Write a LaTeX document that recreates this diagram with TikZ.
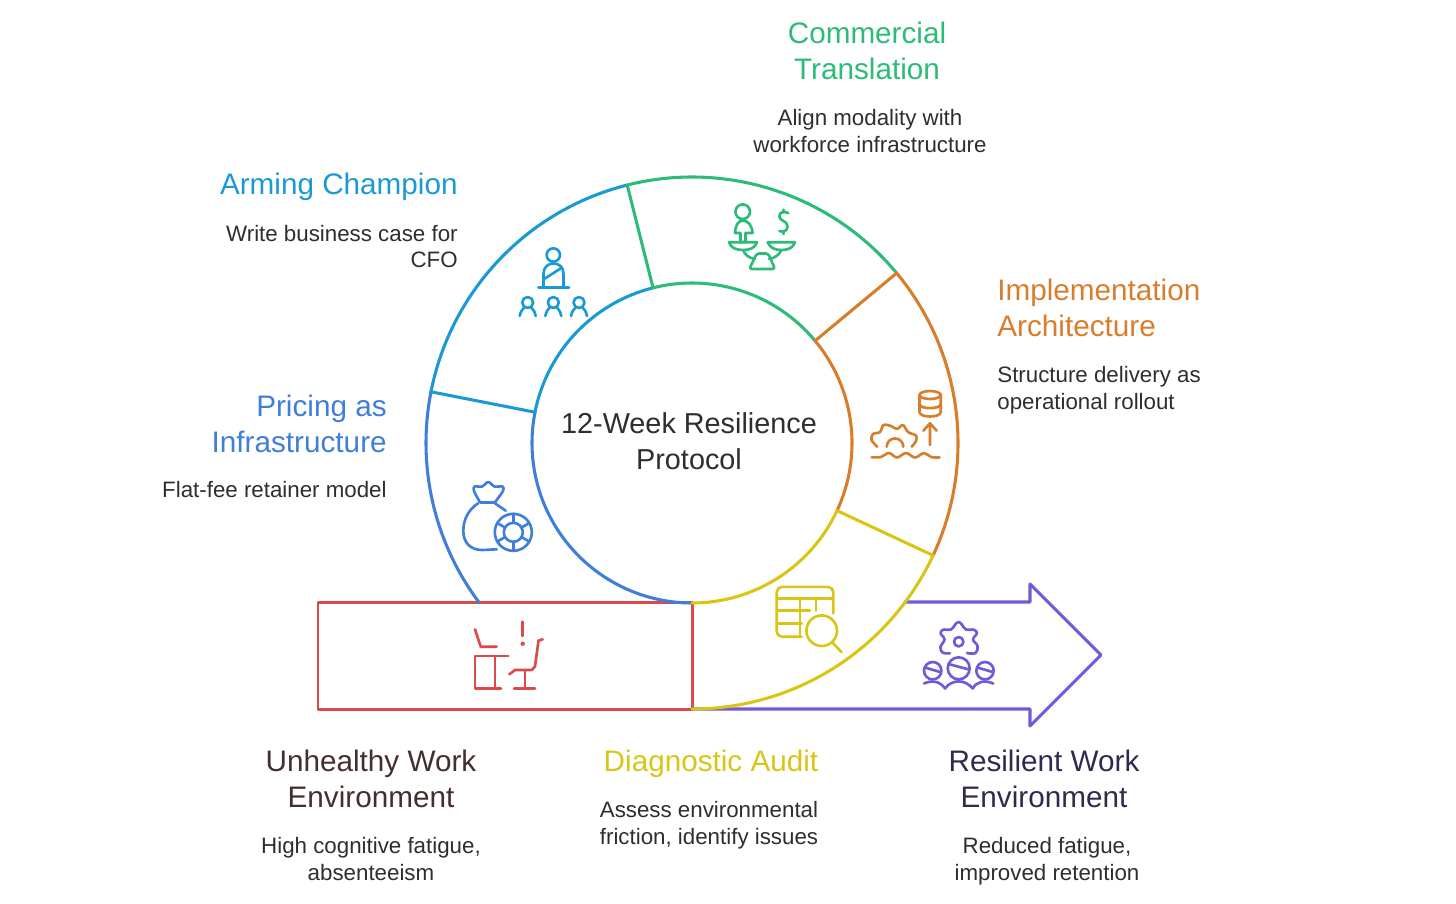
\documentclass[tikz,border=0pt]{standalone}
\usepackage{fontspec}
\setmainfont{Liberation Sans}
\usepackage{xcolor}
\usetikzlibrary{positioning,calc}
\definecolor{pricingblue}{HTML}{3F7EDB}
\definecolor{armingblue}{HTML}{1A9AD4}
\definecolor{commgreen}{HTML}{2DBB78}
\definecolor{implorange}{HTML}{D87D2C}
\definecolor{auditgold}{HTML}{D8C515}
\definecolor{unhealthyred}{HTML}{DB4A4A}
\definecolor{resilpurple}{HTML}{6F5AD8}
\definecolor{darktext}{HTML}{2E2E30}
\definecolor{unhealthydark}{HTML}{452E2E}
\definecolor{resildark}{HTML}{2F2B4E}

\begin{document}
\begin{tikzpicture}[x=0.02cm, y=-0.02cm,
    ringline/.style={line width=1.75pt, line cap=round, line join=round},
    iconline/.style={line width=1.5pt, line cap=round, line join=round},
    headtext/.style={font=\fontsize{16.9}{20.5}\selectfont, align=center, inner sep=0pt},
    bodytext/.style={font=\fontsize{12.7}{15.2}\selectfont, text=darktext, align=center, inner sep=0pt}]
    \useasboundingbox (0,0) rectangle (1456,903);
    \coordinate (c) at (692,443);

    % arrow and red box
    \draw[ringline, resilpurple] (905,602) -- (1030,602) -- (1030,584) -- (1101,655) -- (1030,726) -- (1030,709) -- (692,709);
    \draw[ringline, unhealthyred, line width=1.7pt] (318,602) rectangle (692,709);

    % ring
    \draw[ringline, pricingblue] ($(c)+(143.1:266)$) arc[start angle=143.1, end angle=191.1, radius=266];
    \draw[ringline, pricingblue] ($(c)+(90:160)$) arc[start angle=90, end angle=191.1, radius=160];
    \foreach \a/\b/\col in {191.1/255.9/armingblue, 255.9/320.3/commgreen, 320.3/385/implorange, 25/90/auditgold} {
        \draw[ringline, \col] ($(c)+(\a:266)$) arc[start angle=\a, end angle=\b, radius=266];
        \draw[ringline, \col] ($(c)+(\a:160)$) arc[start angle=\a, end angle=\b, radius=160];
    }
    \foreach \a/\col in {191.1/armingblue, 255.9/commgreen, 320.3/implorange, 25/auditgold} {
        \draw[ringline, \col] ($(c)+(\a:160)$) -- ($(c)+(\a:266)$);
    }

    % arming icon
    \begin{scope}[iconline, armingblue]
        \draw (553.3,255) circle[radius=6.7];
        \draw (543.5,287) -- (543.5,274) .. controls (543.5,267) and (548,263.5) .. (553.5,263.5) .. controls (559,263.5) and (563.5,267) .. (563.5,274) -- (563.5,287);
        \draw (545,278.5) -- (562,267.5);
        \draw (538.5,287.7) -- (569,287.7);
        \foreach \x in {527.7,553.3,579} {
            \draw (\x,302.5) circle[radius=5.5];
            \draw (\x-8,316) .. controls (\x-7,311) and (\x-5,309) .. (\x-3.5,307.5);
            \draw (\x+8,316) .. controls (\x+7,311) and (\x+5,309) .. (\x+3.5,307.5);
        }
    \end{scope}

    % scale icon
    \begin{scope}[iconline, commgreen]
        \draw (742.7,211.7) circle[radius=7.3];
        \draw (735,233) .. controls (735.5,225) and (738,221) .. (743,220.5) .. controls (748,221) and (752,225) .. (752.5,233) -- (745.5,233) -- (745.5,242) -- (740.5,242) -- (740.5,233) -- cycle;
        \draw (729,242.3) -- (757,242.3) .. controls (755,248) and (750,250) .. (743,250) .. controls (736,250) and (731,248) .. (729,242.3);
        \draw (767.7,242.3) -- (795,242.3) .. controls (793,248) and (788,250) .. (781.5,250) .. controls (775,250) and (770,248) .. (767.7,242.3);
        \draw (743,250) .. controls (745,255) and (749,258) .. (755,259);
        \draw (781.5,250) .. controls (779,255) and (775,258) .. (769,259);
        \draw[rounded corners=1.5pt] (756.7,253.5) -- (768.3,253.5) -- (775,269) -- (749.3,269) -- cycle;
        \draw (788.3,213) .. controls (784,211) and (779,212) .. (779.3,216.5) .. controls (779.5,221) and (787,220.5) .. (787.5,226) .. controls (788,231) and (783,232.5) .. (779.3,231);
        \draw (783.3,209.7) -- (783.3,212) (783.3,232) -- (783.3,234);
    \end{scope}

    % rollout icon
    \begin{scope}[iconline, implorange]
        \draw (919.5,395) arc[start angle=180, end angle=540, x radius=10.6, y radius=4];
        \draw (919.5,395) -- (919.5,412) .. controls (919.5,418) and (940.7,418) .. (940.7,412) -- (940.7,395);
        \draw (919.5,404) .. controls (919.5,409.5) and (940.7,409.5) .. (940.7,404);
        \draw (930,445) -- (930,424) (923.3,430.7) -- (930,423.3) -- (936.7,430.7);
        \draw plot[smooth, tension=0.55] coordinates {(877.3,446.7) (871.5,440) (873,434) (880,432) (883.5,425) (891,426) (897,429) (903,425) (908,432) (916,435.5) (916,441) (911.7,446.7)};
        \draw (886.7,446.7) arc[start angle=180, end angle=360, radius=8.3];
        \draw plot[smooth, tension=0.6] coordinates {(871.7,457.3) (881,457) (889,453) (897,457.5) (906,453) (915,457.5) (924,453) (931,457) (939.5,457.5)};
    \end{scope}

    % table icon
    \begin{scope}[iconline, auditgold]
        \draw[rounded corners=3pt] (801.7,636.7) -- (776.7,636.7) -- (776.7,586.9) -- (833.3,586.9) -- (833.3,613.3);
        \draw (776.7,598.3) -- (833.3,598.3);
        \draw (776.7,610.7) -- (810,610.7);
        \draw (776.7,623.3) -- (801.7,623.3);
        \draw (800,598.3) -- (800,636.7);
        \draw (816,598.3) -- (816,610.7);
        \draw (821.7,630.7) circle[radius=15.3];
        \draw (832.3,642.3) -- (841.7,652.3);
    \end{scope}

    % workers icon
    \begin{scope}[iconline, resilpurple]
        \draw (958.7,641.7) circle[radius=4.7];
        \draw plot[smooth, tension=0.7] coordinates {(950,653.3) (942.5,652.5) (940.5,646.5) (944.5,639.5) (940.5,633) (944,629.5) (951,629.5) (958.5,622) (966,629.5) (973,629.5) (977,633) (973,639.5) (977.5,646) (975.5,653) (967,653)};
        \draw (958.7,668.3) circle[radius=11];
        \draw (948.5,664) -- (969,669.5);
        \draw (932.7,670.7) circle[radius=8.7];
        \draw (925,667.5) -- (940,672);
        \draw (985,670.7) circle[radius=8.7];
        \draw (977.5,667.5) -- (992.5,672);
        \draw (924,683.5) .. controls (932,680) and (940,681) .. (945,688.5);
        \draw (945,688.5) .. controls (952,679) and (965,679) .. (972.7,688.5);
        \draw (972.7,688.5) .. controls (977,681) and (985,680) .. (993.3,683.5);
    \end{scope}

    % bag icon
    \begin{scope}[iconline, pricingblue]
        \draw plot[smooth, tension=0.5] coordinates {(480,502.3) (474,491) (474.5,486.5) (482,486.5) (488.3,482) (494.5,486.5) (502.5,486.5) (503,491) (495,502.3)};
        \draw (480,502.3) -- (495,502.3);
        \draw (478,503.3) .. controls (468,510) and (463.3,520) .. (463.3,531) .. controls (463.3,543) and (471,550) .. (482,550) -- (496.7,549.3);
        \draw (495,503.3) -- (505.7,510.7);
        \draw (513.3,532.3) circle[radius=18.5];
        \draw (513.3,532.3) circle[radius=9.5];
        \foreach \s in {-90,-30,30,90,150,210} {
            \draw ($(513.3,532.3)+(\s:9.5)$) -- ($(513.3,532.3)+(\s:18.5)$);
        }
    \end{scope}

    % desk icon
    \begin{scope}[iconline, unhealthyred]
        \draw (475,629.3) -- (480.7,646.7) -- (496.7,646.7);
        \draw (508.3,656) -- (475,656) -- (475,688.3) -- (501,688.3);
        \draw (495,656) -- (495,688.3);
        \draw (522.7,621.7) -- (522.7,636);
        \fill (522.7,643.7) circle[radius=2.2];
        \draw (542.7,639.3) -- (538.5,640.7) -- (535,666.5) -- (531.7,670) -- (515,670) -- (509.3,674.3);
        \draw (525,670) -- (525,688.3);
        \draw (514,688.3) -- (535,688.3);
    \end{scope}

    % labels
    \node[headtext, text=darktext, font=\fontsize{16.4}{20.5}\selectfont] (core) at (689,441.5) {12-Week Resilience\\Protocol};

    \node[headtext, text=commgreen] (commhead) at (867,51) {Commercial\\Translation};
    \node[bodytext] (commtext) at (870,131) {Align modality with\\workforce infrastructure};

    \node[headtext, text=armingblue, anchor=east] (armhead) at (458,187) {Arming Champion};
    \node[bodytext, anchor=east, align=right] (armtext) at (458,246.5) {Write business case for\\CFO};

    \node[headtext, text=implorange, anchor=west, align=left] (implhead) at (997,308) {Implementation\\Architecture};
    \node[bodytext, anchor=west, align=left] (impltext) at (997,390.5) {Structure delivery as\\operational rollout};

    \node[headtext, text=pricingblue, anchor=east, align=right] (pricehead) at (387,423.5) {Pricing as\\Infrastructure};
    \node[bodytext, anchor=east] (pricetext) at (387,490) {Flat-fee retainer model};

    \node[headtext, text=unhealthydark] (unhhead) at (371,779) {Unhealthy Work\\Environment};
    \node[bodytext] (unhtext) at (371,859) {High cognitive fatigue,\\absenteeism};

    \node[headtext, text=auditgold] (audithead) at (711,764) {Diagnostic Audit};
    \node[bodytext] (audittext) at (709,825.5) {Assess environmental\\friction, identify issues};

    \node[headtext, text=resildark] (reshead) at (1044,779) {Resilient Work\\Environment};
    \node[bodytext] (restext) at (1047,861) {Reduced fatigue,\\improved retention};
\end{tikzpicture}
\end{document}
